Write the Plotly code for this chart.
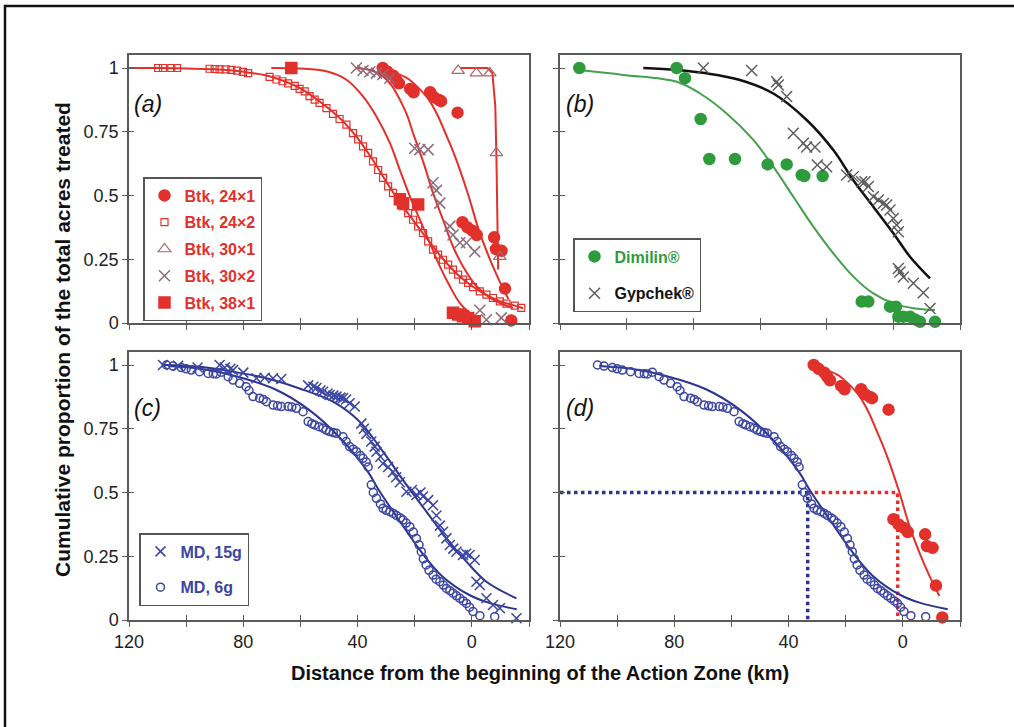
import plotly.graph_objects as go

# ---------------- DATA ----------------
# Panel (a): Btk treatments
btk_24x1_km = [31.2, 29.5, 27.5, 26.5, 25.5, 21.6, 20.4, 14.6, 13.2, 11.5, 10.8, 5.0, 3.3, 1.5, -0.2, -1.7, -7.8, -8.4, -10.4, -11.6, -13.8]
btk_24x1_y = [1.0, 0.985, 0.97, 0.955, 0.94, 0.918, 0.905, 0.905, 0.885, 0.875, 0.87, 0.825, 0.395, 0.375, 0.362, 0.345, 0.336, 0.29, 0.283, 0.135, 0.01]
btk_24x1_fit_km = [31.0, 26.5, 22.2, 18.5, 15.2, 12.0, 9.4, 7.0, 4.7, 1.2, -2.3, -5.8, -9.3, -12.8]
btk_24x1_fit_y = [0.996, 0.98, 0.957, 0.92, 0.878, 0.815, 0.748, 0.685, 0.617, 0.5, 0.369, 0.264, 0.173, 0.094]

btk_24x2_km = [109.8, 108.1, 105.2, 103.2, 91.8, 90.0, 88.3, 86.2, 84.2, 82.2, 80.1, 78.3, 70.8, 68.4, 66.3, 64.3,
               62.0, 60.3, 58.5, 56.8, 55.0, 53.3, 50.9, 48.6, 46.3, 43.9, 41.6, 39.8, 38.1, 36.3, 34.6, 32.8,
               31.1, 29.3, 27.6, 25.8, 24.1, 22.3, 20.6, 18.8, 17.1, 15.3, 13.6, 11.8, 10.1, 8.3, 6.6, 4.8,
               3.1, 1.3, -0.4, -2.8, -5.1, -7.4, -9.8, -12.1, -15.0, -17.3]
btk_24x2_y = [1.0, 1.0, 1.0, 1.0, 0.997, 0.996, 0.995, 0.995, 0.993, 0.99, 0.985, 0.98, 0.965, 0.955, 0.948, 0.94,
              0.93, 0.918, 0.908, 0.89, 0.876, 0.863, 0.843, 0.82, 0.80, 0.778, 0.745, 0.72, 0.693, 0.667, 0.634, 0.60,
              0.569, 0.536, 0.51, 0.484, 0.458, 0.431, 0.405, 0.379, 0.353, 0.32, 0.288, 0.268, 0.248, 0.229, 0.209, 0.19,
              0.17, 0.157, 0.141, 0.124, 0.111, 0.098, 0.085, 0.076, 0.068, 0.059]
btk_24x2_fit_km = [120, 110, 100, 90, 80, 70, 60, 50, 45, 40, 35, 30, 25, 20, 15, 10, 5, 0, -5, -10, -15, -18]
btk_24x2_fit_y = [1.0, 1.0, 0.998, 0.995, 0.985, 0.965, 0.92, 0.84, 0.79, 0.725, 0.645, 0.555, 0.47, 0.395, 0.32,
                  0.25, 0.19, 0.145, 0.11, 0.085, 0.068, 0.058]

btk_30x1_km = [4.8, -1.6, -6.3, -8.6, -9.8]
btk_30x1_y = [0.99, 0.98, 0.98, 0.667, 0.26]
btk_30x1_fit_km = [4.0, -5.5, -7.2, -8.2, -8.6, -8.9, -9.2]
btk_30x1_fit_y = [1.0, 1.0, 0.98, 0.85, 0.65, 0.45, 0.21]

btk_30x2_km = [40.4, 38.1, 35.7, 33.4, 31.1, 28.7, 20.0, 18.2, 15.3, 13.6, 12.4, 11.2, 7.7, 6.6, 4.2, 1.9, -1.0, -2.8, -5.1, -10.3]
btk_30x2_y = [1.0, 0.99, 0.985, 0.98, 0.975, 0.96, 0.685, 0.68, 0.68, 0.55, 0.52, 0.47, 0.38, 0.345, 0.315, 0.315, 0.28, 0.05, 0.013, 0.02]
btk_30x2_fit_km = [40.4, 35.0, 31.1, 28.0, 25.2, 22.5, 20.6, 18.5, 16.5, 13.6, 10.1, 6.6, 3.1, -1.6, -7.4, -14.4]
btk_30x2_fit_y = [1.0, 0.99, 0.967, 0.93, 0.876, 0.81, 0.745, 0.68, 0.614, 0.51, 0.405, 0.30, 0.222, 0.144, 0.092, 0.059]

btk_38x1_km = [63.2, 25.2, 24.1, 18.8, 6.6, 4.8, 3.1, 1.3, -1.0]
btk_38x1_y = [1.0, 0.485, 0.47, 0.465, 0.04, 0.033, 0.026, 0.02, 0.007]
btk_38x1_fit_km = [70.2, 60.3, 50.9, 43.9, 38.1, 33.4, 28.7, 25.2, 21.7, 18.2, 14.7, 11.2, 7.7, 4.2, 0.8, -2.8]
btk_38x1_fit_y = [1.0, 0.998, 0.987, 0.954, 0.889, 0.81, 0.706, 0.60, 0.497, 0.405, 0.314, 0.222, 0.144, 0.078, 0.04, 0.013]

# Panel (b): Dimilin and Gypchek
dimilin_km = [114.2, 85.0, 82.5, 77.8, 75.2, 67.5, 57.7, 52.0, 47.5, 46.7, 41.2, 29.5, 27.5, 21.0, 19.2, 18.5, 17.0, 15.0, 13.5, 12.0, 7.5]
dimilin_y = [1.0, 1.0, 0.96, 0.80, 0.643, 0.643, 0.622, 0.622, 0.58, 0.576, 0.576, 0.084, 0.084, 0.064, 0.064, 0.025, 0.025, 0.025, 0.014, 0.005, 0.005]
dimilin_fit_km = [114.2, 101, 85, 78, 70, 62, 56, 50, 44, 38, 32, 26, 20, 14, 7.5]
dimilin_fit_y = [0.992, 0.973, 0.946, 0.90, 0.822, 0.718, 0.613, 0.495, 0.378, 0.273, 0.182, 0.116, 0.077, 0.058, 0.051]

gypchek_km = [77.0, 62.5, 55.0, 54.5, 52.0, 50.0, 47.0, 46.0, 43.5, 42.8, 40.0, 34.0, 32.0, 29.5, 28.5, 27.5, 26.0,
              24.5, 23.0, 22.0, 21.0, 20.0, 19.0, 18.5, 18.5, 18.0, 17.0, 14.0, 11.0, 9.0]
gypchek_y = [1.0, 0.99, 0.946, 0.933, 0.888, 0.744, 0.705, 0.69, 0.69, 0.62, 0.613, 0.58, 0.574, 0.554, 0.554, 0.535, 0.495,
             0.482, 0.469, 0.463, 0.443, 0.41, 0.384, 0.358, 0.214, 0.2, 0.18, 0.156, 0.119, 0.057]
gypchek_fit_km = [95, 85, 76, 66, 56, 46, 38, 32, 26, 20, 15, 9]
gypchek_fit_y = [1.0, 0.992, 0.979, 0.953, 0.90, 0.796, 0.678, 0.56, 0.456, 0.352, 0.26, 0.175]

# Panels (c) and (d): mating disruption
md15_km = [108.1, 102.8, 96.0, 88.3, 86.5, 84.5, 83.6, 80.0, 75.4, 72.5, 69.6, 66.7, 57.3, 55.5, 54.4, 53.0, 52.1,
           50.5, 49.8, 48.5, 47.4, 46.0, 45.1, 44.0, 42.8, 41.0, 38.7, 37.8, 36.9, 35.2, 34.0, 33.4, 32.0, 31.1,
           29.3, 27.6, 26.5, 25.2, 22.9, 21.0, 19.4, 18.0, 17.1, 15.3, 13.6, 12.4, 11.2, 10.1, 8.9, 7.7, 6.5,
           5.4, 3.1, 2.0, 0.8, -1.0, -1.6, -2.8, -5.1, -7.4, -9.8, -15.6]
md15_y = [1.0, 0.997, 0.99, 1.0, 0.99, 0.985, 0.98, 0.97, 0.948, 0.95, 0.948, 0.945, 0.92, 0.915, 0.91, 0.90, 0.895,
          0.888, 0.882, 0.88, 0.876, 0.872, 0.87, 0.865, 0.85, 0.837, 0.77, 0.75, 0.73, 0.70, 0.68, 0.66, 0.64, 0.614,
          0.60, 0.58, 0.56, 0.54, 0.503, 0.51, 0.49, 0.50, 0.484, 0.47, 0.45, 0.41, 0.37, 0.346, 0.32, 0.294, 0.28,
          0.268, 0.255, 0.26, 0.255, 0.235, 0.15, 0.137, 0.085, 0.059, 0.046, 0.007]
md15_fit_km = [108, 95.3, 83.6, 71.9, 60.3, 48.6, 39.3, 31.1, 22.9, 15.9, 8.9, 1.9, -5.1, -15.6]
md15_fit_y = [1.0, 0.993, 0.974, 0.948, 0.908, 0.856, 0.778, 0.66, 0.53, 0.425, 0.32, 0.229, 0.15, 0.085]

md6_km = [106.9, 104.6, 101.7, 100.0, 98.2, 95.3, 92.3, 90.5, 89.4, 87.7, 85.3, 83.6, 81.3, 79.0, 78.0, 76.6, 74.3,
          73.0, 71.9, 69.6, 68.0, 66.7, 64.3, 63.0, 61.4, 59.1, 57.3, 56.0, 55.0, 53.5, 52.1, 51.0, 49.8, 48.5,
          47.4, 45.1, 44.0, 42.8, 41.5, 40.4, 39.0, 38.1, 37.0, 36.3, 35.2, 34.5, 33.4, 32.0, 31.1, 30.0, 28.7,
          27.5, 26.4, 25.0, 24.1, 23.0, 21.7, 20.5, 19.4, 18.5, 17.7, 17.0, 16.0, 15.0, 13.6, 12.5, 11.2, 10.0,
          8.9, 7.7, 6.6, 5.4, 4.2, 3.0, 1.9, 0.8, -0.4, -2.8, -8.0]
md6_y = [1.0, 0.996, 0.99, 0.985, 0.98, 0.974, 0.967, 0.966, 0.965, 0.972, 0.954, 0.941, 0.928, 0.915, 0.90, 0.876, 0.87,
         0.865, 0.856, 0.843, 0.84, 0.837, 0.837, 0.835, 0.83, 0.817, 0.778, 0.77, 0.765, 0.758, 0.752, 0.745, 0.739, 0.735,
         0.732, 0.719, 0.70, 0.68, 0.67, 0.66, 0.645, 0.634, 0.62, 0.60, 0.53, 0.50, 0.477, 0.455, 0.438, 0.43, 0.425,
         0.418, 0.41, 0.40, 0.392, 0.38, 0.366, 0.345, 0.32, 0.295, 0.268, 0.24, 0.216, 0.195, 0.176, 0.16, 0.15, 0.137,
         0.124, 0.115, 0.105, 0.095, 0.085, 0.075, 0.065, 0.05, 0.033, 0.017, 0.013]
md6_fit_km = [106.2, 95.0, 82.9, 68.9, 57.2, 45.6, 36.2, 32.7, 25.7, 17.5, 10.5, 1.2, -5.8, -15.7]
md6_fit_y = [0.996, 0.985, 0.957, 0.905, 0.826, 0.708, 0.578, 0.512, 0.395, 0.264, 0.173, 0.10, 0.068, 0.042]

# Panel (d) reference lines: 50% treated distance
median_level = 0.5
median_md6_km = 33.3
median_btk_km = 1.8

x_ticks_a = [120, 100, 80, 60, 40, 20, 0, -20]
x_ticks_b = [120, 100, 80, 60, 40, 20, 0]
x_tick_labels = ["120", "", "80", "", "40", "", "0", ""]
y_ticks = [0, 0.25, 0.5, 0.75, 1]
y_tick_labels = ["0", "0.25", "0.5", "0.75", "1"]

# ---------------- STYLE ----------------
W, H = 1014, 727
FONT = "Liberation Sans, Arial, Helvetica, sans-serif"
RED = "#e2302b"
RED_GRAY = "#a46a6c"
RED_X = "#8c6c7a"
GREEN = "#2e9b3c"
GREEN_LINE = "#45a04c"
GRAY = "#5a5a5a"
BLUE = "#3b45a2"
BLUE_LINE = "#2c348f"
AX = "#5a5a5a"

fig = go.Figure()

panels = {
    1: dict(x=(129, 529), y=(55, 323), xr=[120, -20], xt=x_ticks_a, labels=False),
    2: dict(x=(560, 960), y=(55, 323), xr=[120, 0], xt=x_ticks_b, labels=False),
    3: dict(x=(129, 529), y=(352, 620), xr=[120, -20], xt=x_ticks_a, labels=True),
    4: dict(x=(560, 960), y=(352, 620), xr=[120, -20], xt=x_ticks_a, labels=True),
}
YR = [0, 1.051]

layout_axes = {}
for i, p in panels.items():
    xd = [p["x"][0] / W, p["x"][1] / W]
    yd = [1 - p["y"][1] / H, 1 - p["y"][0] / H]
    sx = "" if i == 1 else str(i)
    common = dict(showgrid=False, zeroline=False, ticklen=5, tickwidth=1.3, tickcolor=AX, automargin=False,
                  tickfont=dict(family=FONT, size=18, color="#222"))
    layout_axes[f"xaxis{sx}"] = dict(domain=xd, range=p["xr"], anchor=f"y{sx}", tickmode="array",
                                     tickvals=p["xt"], ticktext=x_tick_labels[:len(p["xt"])],
                                     showticklabels=p["labels"], ticks="outside", showline=True,
                                     mirror=True, linecolor=AX, linewidth=1.5, **common)
    layout_axes[f"yaxis{sx}"] = dict(domain=yd, range=YR, anchor=f"x{sx}", tickmode="array",
                                     tickvals=y_ticks, ticktext=y_tick_labels,
                                     showticklabels=(i in (1, 3)), ticks="outside", showline=True,
                                     mirror=True, linecolor=AX, linewidth=1.5, **common)
    # overlay axes for the inner half of crossing ticks
    o = i + 4
    layout_axes[f"xaxis{o}"] = dict(domain=xd, range=p["xr"], anchor=f"y{o}", overlaying=f"x{sx}",
                                    tickmode="array", tickvals=p["xt"], showticklabels=False,
                                    ticks="inside", showline=False, **common)
    layout_axes[f"yaxis{o}"] = dict(domain=yd, range=YR, anchor=f"x{o}", overlaying=f"y{sx}",
                                    tickmode="array", tickvals=y_ticks, showticklabels=False,
                                    ticks="inside", showline=False, **common)
    fig.add_trace(go.Scatter(x=[], y=[], xaxis=f"x{o}", yaxis=f"y{o}", showlegend=False, hoverinfo="skip"))


def ax(i):
    s = "" if i == 1 else str(i)
    return dict(xaxis=f"x{s}", yaxis=f"y{s}")


def fit(xs, ys, color, i, width=2.0):
    fig.add_trace(go.Scatter(x=xs, y=ys, mode="lines", line=dict(color=color, width=width, shape="spline"),
                             showlegend=False, hoverinfo="skip", cliponaxis=False, **ax(i)))


def pts(xs, ys, name, symbol, size, color, i, legend=None, lw=1.5, group=None):
    fig.add_trace(go.Scatter(
        x=xs, y=ys, mode="markers", name=name,
        marker=dict(symbol=symbol, size=size, color=color, line=dict(color=color, width=lw)),
        showlegend=legend is not None, legend=legend or "legend", legendgroup=group,
        cliponaxis=False, **ax(i)))


# Panel (a)
fit(btk_24x2_fit_km, btk_24x2_fit_y, RED, 1)
fit(btk_38x1_fit_km, btk_38x1_fit_y, RED, 1)
fit(btk_30x2_fit_km, btk_30x2_fit_y, RED, 1)
fit(btk_24x1_fit_km, btk_24x1_fit_y, RED, 1)
fig.add_trace(go.Scatter(x=btk_30x1_fit_km, y=btk_30x1_fit_y, mode="lines", line=dict(color=RED, width=2),
                         showlegend=False, hoverinfo="skip", **ax(1)))
pts(btk_24x1_km, btk_24x1_y, "<b>Btk, 24×1</b>", "circle", 11, RED, 1, "legend", group="a1")
pts(btk_24x2_km, btk_24x2_y, "<b>Btk, 24×2</b>", "square-open", 7, RED, 1, "legend", lw=1.2, group="a2")
pts(btk_30x1_km, btk_30x1_y, "<b>Btk, 30×1</b>", "triangle-up-open", 11, RED_GRAY, 1, "legend", lw=1.2, group="a3")
pts(btk_30x2_km, btk_30x2_y, "<b>Btk, 30×2</b>", "x-thin-open", 11, RED_X, 1, "legend", lw=1.5, group="a4")
pts(btk_38x1_km, btk_38x1_y, "<b>Btk, 38×1</b>", "square", 11, RED, 1, "legend", group="a5")

# Panel (b)
fit(dimilin_fit_km, dimilin_fit_y, GREEN_LINE, 2)
fit(gypchek_fit_km, gypchek_fit_y, "#111111", 2, width=2.5)
pts(dimilin_km, dimilin_y, f"<b><span style='color:{GREEN}'>Dimilin®</span></b>", "circle", 11, GREEN, 2, "legend2", group="b1")
pts(gypchek_km, gypchek_y, "<b>Gypchek®</b>", "x-thin-open", 11, GRAY, 2, "legend2", lw=1.4, group="b2")

# Panel (c)
fit(md15_fit_km, md15_fit_y, BLUE_LINE, 3)
fit(md6_fit_km, md6_fit_y, BLUE_LINE, 3)
pts(md15_km, md15_y, "<b>MD, 15g</b>", "x-thin-open", 10, BLUE, 3, "legend3", lw=1.5, group="c1")
pts(md6_km, md6_y, "<b>MD, 6g</b>", "circle-open", 8, BLUE, 3, "legend3", lw=1.5, group="c2")

# Panel (d)
dot = dict(width=3.5, dash="dot")
fig.add_trace(go.Scatter(x=[120, median_md6_km, median_md6_km], y=[median_level, median_level, 0], mode="lines",
                         line=dict(color=BLUE_LINE, **dot), showlegend=False, hoverinfo="skip", **ax(4)))
fig.add_trace(go.Scatter(x=[median_md6_km, median_btk_km, median_btk_km], y=[median_level, median_level, 0], mode="lines",
                         line=dict(color=RED, **dot), showlegend=False, hoverinfo="skip", **ax(4)))
fit(md6_fit_km, md6_fit_y, BLUE_LINE, 4)
fit(btk_24x1_fit_km, btk_24x1_fit_y, RED, 4)
pts(md6_km, md6_y, "MD, 6g", "circle-open", 8, BLUE, 4)
pts(btk_24x1_km, btk_24x1_y, "Btk, 24×1", "circle", 11, RED, 4)

legend_common = dict(xanchor="left", yanchor="top", bgcolor="white", bordercolor="#555", borderwidth=1.5,
                     traceorder="grouped", itemsizing="trace")
annotations = []
for txt, xp, yp in [("(a)", 132, 104), ("(b)", 564, 104), ("(c)", 132, 408), ("(d)", 564, 408)]:
    annotations.append(dict(text=f"<i>{txt}</i>", x=xp / W, y=1 - yp / H, xref="paper", yref="paper",
                            xanchor="left", yanchor="middle", showarrow=False,
                            font=dict(family=FONT, size=23, color="#111")))
annotations.append(dict(text="<b>Distance from the beginning of the Action Zone (km)</b>", x=540 / W, y=1 - 673 / H,
                        xref="paper", yref="paper", xanchor="center", yanchor="middle", showarrow=False,
                        font=dict(family=FONT, size=20, color="#111")))
annotations.append(dict(text="<b>Cumulative proportion of the total acres treated</b>", x=62 / W, y=1 - 340 / H,
                        xref="paper", yref="paper", xanchor="center", yanchor="middle", showarrow=False,
                        textangle=-90, font=dict(family=FONT, size=21, color="#111")))

fig.update_layout(
    width=W, height=H, margin=dict(l=0, r=0, t=0, b=0, pad=0, autoexpand=False),
    paper_bgcolor="white", plot_bgcolor="white",
    font=dict(family=FONT),
    legend=dict(x=143 / W, y=1 - 177 / H, font=dict(family=FONT, size=16, color=RED), tracegroupgap=3, **legend_common),
    legend2=dict(x=573 / W, y=1 - 238 / H, font=dict(family=FONT, size=16, color="#111"), tracegroupgap=13, **legend_common),
    legend3=dict(x=139 / W, y=1 - 533 / H, font=dict(family=FONT, size=16, color=BLUE), tracegroupgap=12, **legend_common),
    annotations=annotations,
    shapes=[dict(type="rect", xref="paper", yref="paper", x0=5 / W, x1=1.03, y0=1 - 6 / H, y1=-0.05,
                 line=dict(color="#111", width=2.5), layer="above")],
    **layout_axes,
)

fig.write_html("out.html", config={"displayModeBar": False},
               post_script="document.body.style.margin='0';document.body.style.overflow='hidden';")
